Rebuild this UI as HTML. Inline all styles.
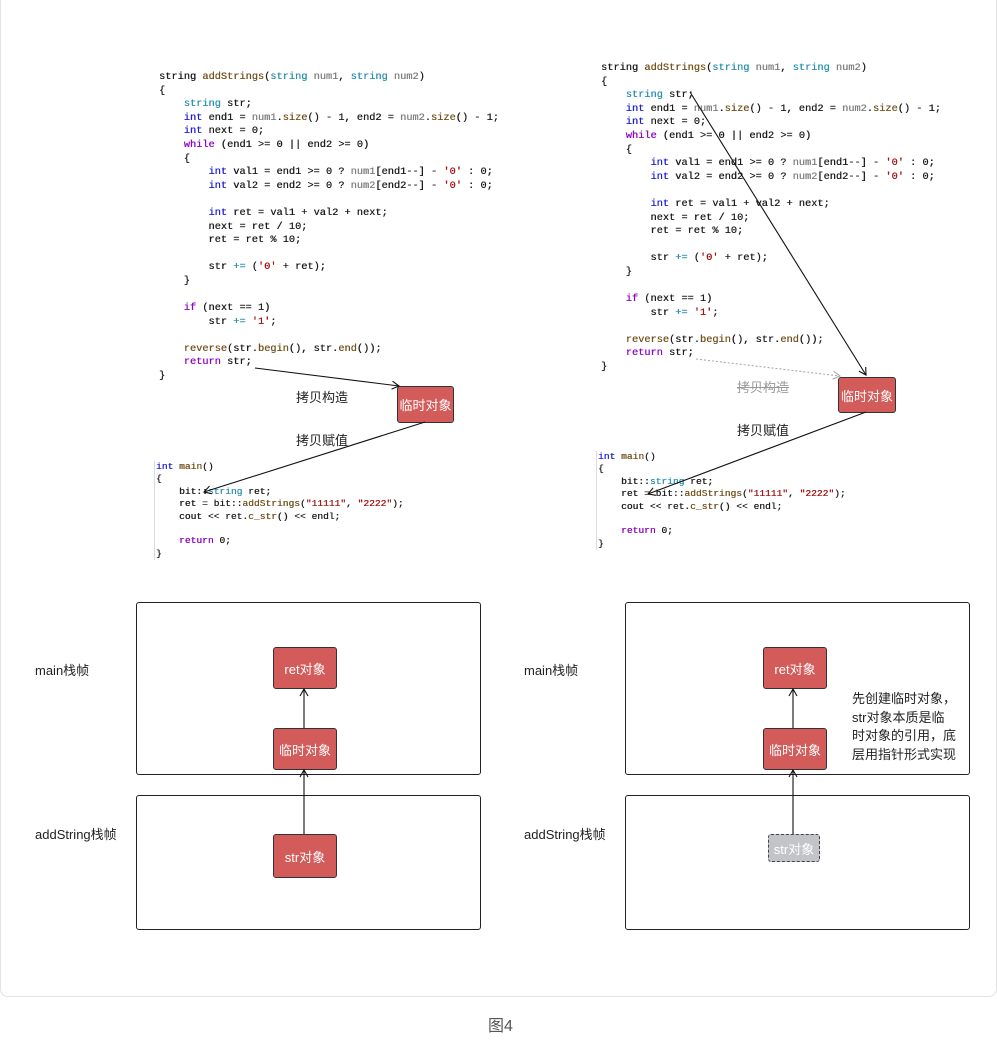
<!DOCTYPE html>
<html><head><meta charset="utf-8"><style>
body{margin:0;width:997px;height:1046px;background:#fff;position:relative;overflow:hidden;font-family:"Liberation Sans","Noto Sans CJK SC",sans-serif;}
.card{position:absolute;left:0;top:-10px;width:995px;height:1005px;border:1px solid #e3e3e3;border-radius:8px;}
pre{position:absolute;margin:0;font-family:"Liberation Mono",monospace;font-size:10.3px;line-height:13.6px;color:#1e1e1e;text-shadow:0.3px 0 0 currentColor;}
pre.m{font-size:9.6px;line-height:12.4px;border-left:1px solid #ddd;padding-left:1px}
.k{color:#1f1fd6}.t{color:#2b91af}.p{color:#8f08c4}.f{color:#74531f}.g{color:#808080}.s{color:#a31515}
.box{position:absolute;border:1px solid #222;border-radius:3px;}
.red{position:absolute;background:#d35c5b;border:1px solid #333;border-radius:3px;color:#fff;font-size:13px;display:flex;align-items:center;justify-content:center;}
.lbl{position:absolute;font-size:13px;color:#222;}
</style></head><body>
<div class="card"></div>
<pre style="left:159px;top:71px">string <span class="f">addStrings</span>(<span class="t">string</span> <span class="g">num1</span>, <span class="t">string</span> <span class="g">num2</span>)
{
    <span class="t">string</span> str;
    <span class="k">int</span> end1 = <span class="g">num1</span>.<span class="f">size</span>() - 1, end2 = <span class="g">num2</span>.<span class="f">size</span>() - 1;
    <span class="k">int</span> next = 0;
    <span class="p">while</span> (end1 >= 0 || end2 >= 0)
    {
        <span class="k">int</span> val1 = end1 >= 0 ? <span class="g">num1</span>[end1--] - <span class="s">'0'</span> : 0;
        <span class="k">int</span> val2 = end2 >= 0 ? <span class="g">num2</span>[end2--] - <span class="s">'0'</span> : 0;

        <span class="k">int</span> ret = val1 + val2 + next;
        next = ret / 10;
        ret = ret % 10;

        str <span class="t">+=</span> (<span class="s">'0'</span> + ret);
    }

    <span class="p">if</span> (next == 1)
        str <span class="t">+=</span> <span class="s">'1'</span>;

    <span class="f">reverse</span>(str.<span class="f">begin</span>(), str.<span class="f">end</span>());
    <span class="p">return</span> str;
}</pre>
<pre style="left:601px;top:62px">string <span class="f">addStrings</span>(<span class="t">string</span> <span class="g">num1</span>, <span class="t">string</span> <span class="g">num2</span>)
{
    <span class="t">string</span> str;
    <span class="k">int</span> end1 = <span class="g">num1</span>.<span class="f">size</span>() - 1, end2 = <span class="g">num2</span>.<span class="f">size</span>() - 1;
    <span class="k">int</span> next = 0;
    <span class="p">while</span> (end1 >= 0 || end2 >= 0)
    {
        <span class="k">int</span> val1 = end1 >= 0 ? <span class="g">num1</span>[end1--] - <span class="s">'0'</span> : 0;
        <span class="k">int</span> val2 = end2 >= 0 ? <span class="g">num2</span>[end2--] - <span class="s">'0'</span> : 0;

        <span class="k">int</span> ret = val1 + val2 + next;
        next = ret / 10;
        ret = ret % 10;

        str <span class="t">+=</span> (<span class="s">'0'</span> + ret);
    }

    <span class="p">if</span> (next == 1)
        str <span class="t">+=</span> <span class="s">'1'</span>;

    <span class="f">reverse</span>(str.<span class="f">begin</span>(), str.<span class="f">end</span>());
    <span class="p">return</span> str;
}</pre>
<pre class="m" style="left:154px;top:461px"><span class="k">int</span> <span class="f">main</span>()
{
    bit::<span class="t">string</span> ret;
    ret = bit::<span class="f">addStrings</span>(<span class="s">"11111"</span>, <span class="s">"2222"</span>);
    cout << ret.<span class="f">c_str</span>() << endl;

    <span class="p">return</span> 0;
}</pre>
<pre class="m" style="left:596px;top:451px"><span class="k">int</span> <span class="f">main</span>()
{
    bit::<span class="t">string</span> ret;
    ret = bit::<span class="f">addStrings</span>(<span class="s">"11111"</span>, <span class="s">"2222"</span>);
    cout << ret.<span class="f">c_str</span>() << endl;

    <span class="p">return</span> 0;
}</pre>

<div class="red" style="left:397px;top:386px;width:55px;height:35px">临时对象</div>
<div class="red" style="left:838px;top:377px;width:56px;height:34px">临时对象</div>
<div class="lbl" style="left:296px;top:387px">拷贝构造</div>
<div class="lbl" style="left:296px;top:430px">拷贝赋值</div>
<div class="lbl" style="left:737px;top:377px;color:#999;text-decoration:line-through">拷贝构造</div>
<div class="lbl" style="left:737px;top:420px">拷贝赋值</div>

<div class="box" style="left:136px;top:602px;width:343px;height:171px"></div>
<div class="box" style="left:136px;top:795px;width:343px;height:133px"></div>
<div class="box" style="left:625px;top:602px;width:343px;height:171px"></div>
<div class="box" style="left:625px;top:795px;width:343px;height:133px"></div>
<div class="lbl" style="left:35px;top:660px">main栈帧</div>
<div class="lbl" style="left:35px;top:824px">addString栈帧</div>
<div class="lbl" style="left:524px;top:660px">main栈帧</div>
<div class="lbl" style="left:524px;top:824px">addString栈帧</div>
<div class="red" style="left:273px;top:647px;width:62px;height:40px">ret对象</div>
<div class="red" style="left:273px;top:728px;width:62px;height:40px">临时对象</div>
<div class="red" style="left:273px;top:834px;width:62px;height:42px">str对象</div>
<div class="red" style="left:763px;top:647px;width:62px;height:40px">ret对象</div>
<div class="red" style="left:763px;top:728px;width:62px;height:40px">临时对象</div>
<div class="red" style="left:768px;top:834px;width:50px;height:26px;background:#c3c4c7;border:1px dashed #444;">str对象</div>
<div class="lbl" style="left:852px;top:690px;line-height:18.7px;width:110px">先创建临时对象，<br>str对象本质是临<br>时对象的引用，底<br>层用指针形式实现</div>
<div class="lbl" style="left:488px;top:1012px;font-size:16px;color:#555">图4</div>

<svg width="997" height="1046" style="position:absolute;left:0;top:0" fill="none" stroke="#111" stroke-width="1.1">
<defs><marker id="a" markerWidth="10" markerHeight="10" refX="8" refY="5" orient="auto" markerUnits="userSpaceOnUse"><path d="M1,1 L8,5 L1,9" stroke="#111" fill="none"/></marker>
<marker id="b" markerWidth="10" markerHeight="10" refX="8" refY="5" orient="auto" markerUnits="userSpaceOnUse"><path d="M1,1 L8,5 L1,9" stroke="#aaa" fill="none"/></marker></defs>
<line x1="255" y1="368" x2="399" y2="386" marker-end="url(#a)"/>
<line x1="425" y1="422" x2="204" y2="492" marker-end="url(#a)"/>
<line x1="690" y1="92" x2="866" y2="375" marker-end="url(#a)"/>
<line x1="696" y1="359" x2="840" y2="376" stroke="#aaa" stroke-dasharray="2,2" marker-end="url(#b)"/>
<line x1="866" y1="412" x2="648" y2="494" marker-end="url(#a)"/>
<line x1="304" y1="728" x2="304" y2="689" marker-end="url(#a)"/>
<line x1="304" y1="834" x2="304" y2="770" marker-end="url(#a)"/>
<line x1="793" y1="728" x2="793" y2="689" marker-end="url(#a)"/>
<line x1="793" y1="834" x2="793" y2="770" marker-end="url(#a)"/>
</svg>
</body></html>
